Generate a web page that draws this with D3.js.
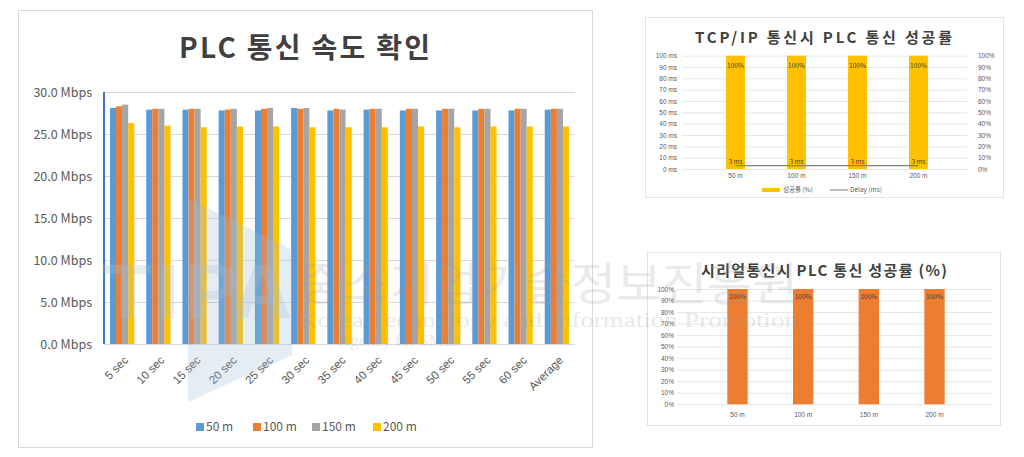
<!DOCTYPE html>
<html><head><meta charset="utf-8">
<script src="https://cdn.jsdelivr.net/npm/d3@7"></script>
<style>
html,body{margin:0;padding:0;background:#fff;}
svg{display:block;font-family:"Noto Sans CJK KR","Noto Sans",sans-serif;}
</style></head><body>
<svg id="c" width="1024" height="457"></svg>
<script>
// ---------- data ----------
const categories = ["5 sec","10 sec","15 sec","20 sec","25 sec","30 sec","35 sec","40 sec","45 sec","50 sec","55 sec","60 sec","Average"];
const seriesNames = ["50 m","100 m","150 m","200 m"];
const speed50  = [28.1,27.9,27.9,27.8,27.8,28.1,27.8,27.9,27.8,27.8,27.8,27.8,27.9];
const speed100 = [28.3,28.0,28.0,27.9,28.0,28.0,28.0,28.0,28.0,28.0,28.0,28.0,28.0];
const speed150 = [28.5,28.0,28.0,28.0,28.1,28.1,27.9,28.0,28.0,28.0,28.0,28.0,28.0];
const speed200 = [26.3,26.0,25.8,25.9,25.9,25.8,25.8,25.8,25.9,25.8,25.9,25.9,25.9];
const speedTicks = [0,5,10,15,20,25,30];

const distances = ["50 m","100 m","150 m","200 m"];
const tcpSuccess = [100,100,100,100];
const tcpDelay = [3,3,3,3];
const delayTicks = [0,10,20,30,40,50,60,70,80,90,100];
const pctTicks = [0,10,20,30,40,50,60,70,80,90,100];
const serialSuccess = [100,100,100,100];

const colors = ["#5B9BD5","#ED7D31","#A5A5A5","#FFC000"];
const svg = d3.select("#c");
const gridC = "#D9D9D9", txtC = "#595959";

// ---------- main chart ----------
svg.append("rect").attr("x",18.5).attr("y",10.5).attr("width",574).attr("height",437)
  .attr("fill","#fff").attr("stroke","#D9D9D9");
svg.append("text").attr("x",179).attr("y",58)
  .attr("font-size",28).attr("font-weight",700).attr("fill","#404040")
  .attr("textLength",251).attr("lengthAdjust","spacing").text("PLC 통신 속도 확인");

const x0 = d3.scaleBand().domain(categories).range([104,575]).paddingInner(0.33).paddingOuter(0.165);
const x1 = d3.scaleBand().domain(seriesNames).range([0,x0.bandwidth()]);
const y = d3.scaleLinear().domain([0,30]).range([344,92]);
const main = svg.append("g");
main.append("g").selectAll("line").data(speedTicks).join("line")
  .attr("x1",104).attr("x2",575).attr("y1",d=>y(d)+0.5).attr("y2",d=>y(d)+0.5).attr("stroke",gridC);
const yAx = d3.axisLeft(y).tickValues(speedTicks).tickSize(0).tickPadding(12).tickFormat(d=>d3.format(".1f")(d)+" Mbps");
main.append("g").attr("transform","translate(104,0)").call(yAx)
  .call(g=>g.select(".domain").remove())
  .call(g=>g.selectAll("text").attr("font-size",12.5).attr("fill",txtC).attr("font-family","Noto Sans CJK KR"));
const allSeries = [speed50,speed100,speed150,speed200];
const rows = categories.map((c,i)=>({cat:c, vals: allSeries.map((s,k)=>({name:seriesNames[k], v:s[i], k}))}));
main.append("g").selectAll("g").data(rows).join("g")
  .attr("transform",d=>`translate(${x0(d.cat)},0)`)
  .selectAll("rect").data(d=>d.vals).join("rect")
  .attr("x",d=>x1(d.name)).attr("width",x1.bandwidth())
  .attr("y",d=>y(d.v)).attr("height",d=>y(0)-y(d.v)).attr("fill",d=>colors[d.k]);
main.append("line").attr("x1",104).attr("x2",104).attr("y1",92).attr("y2",344)
  .attr("stroke","#4472C4").attr("stroke-width",2);
const xAx = d3.axisBottom(x0).tickSize(0).tickPadding(0);
main.append("g").attr("transform","translate(0,352)").call(xAx)
  .call(g=>g.select(".domain").remove())
  .call(g=>g.selectAll("text").attr("font-size",11.5).attr("fill",txtC)
     .attr("text-anchor","end").attr("dy","0.35em")
     .attr("transform","translate(4,6) rotate(-45)"));
// legend
const leg = main.append("g").attr("transform","translate(196,427)");
const legX = [0,57,116,177];
seriesNames.forEach((n,k)=>{
  const g = leg.append("g").attr("transform",`translate(${legX[k]},0)`);
  g.append("rect").attr("x",0).attr("y",-4).attr("width",8).attr("height",8).attr("fill",colors[k]);
  g.append("text").attr("x",10).attr("y",0).attr("dy","0.35em").attr("font-size",12).attr("fill",txtC).text(n);
});

// ---------- TCP/IP chart ----------
svg.append("rect").attr("x",645.5).attr("y",17.5).attr("width",358).attr("height",180)
  .attr("fill","#fff").attr("stroke","#E3E3E3");
svg.append("text").attr("x",695).attr("y",43)
  .attr("font-size",15).attr("font-weight",700).attr("fill","#404040")
  .attr("textLength",257).attr("lengthAdjust","spacing").text("TCP/IP 통신시 PLC 통신 성공률");
const tx = d3.scaleBand().domain(distances).range([684,970]).padding(0.69);
const tyL = d3.scaleLinear().domain([0,100]).range([169,55.7]);
const tyR = d3.scaleLinear().domain([0,100]).range([169,55.7]);
const tcp = svg.append("g");
tcp.append("g").selectAll("line").data(delayTicks).join("line")
  .attr("x1",682).attr("x2",967).attr("y1",d=>tyL(d)+0.5).attr("y2",d=>tyL(d)+0.5).attr("stroke","#E6E6E6");
tcp.append("g").attr("transform","translate(682,0)")
  .call(d3.axisLeft(tyL).tickValues(delayTicks).tickSize(0).tickPadding(5).tickFormat(d=>d+" ms"))
  .call(g=>g.select(".domain").remove())
  .call(g=>g.selectAll("text").attr("font-size",6.5).attr("fill",txtC));
tcp.append("g").attr("transform","translate(967,0)")
  .call(d3.axisRight(tyR).tickValues(pctTicks).tickSize(0).tickPadding(11).tickFormat(d=>d+"%"))
  .call(g=>g.select(".domain").remove())
  .call(g=>g.selectAll("text").attr("font-size",6.5).attr("fill",txtC));
tcp.append("g").selectAll("rect").data(tcpSuccess).join("rect")
  .attr("x",(d,i)=>tx(distances[i])).attr("width",tx.bandwidth())
  .attr("y",d=>tyR(d)).attr("height",d=>tyR(0)-tyR(d)).attr("fill","#FFC000");
tcp.append("g").selectAll("text").data(tcpSuccess).join("text")
  .attr("x",(d,i)=>tx(distances[i])+tx.bandwidth()/2).attr("y",d=>tyR(d)+12)
  .attr("text-anchor","middle").attr("font-size",6.5).attr("fill","#404040").text(d=>d+"%");
const line = d3.line().x((d,i)=>tx(distances[i])+tx.bandwidth()/2).y(d=>tyL(d));
tcp.append("path").datum(tcpDelay).attr("d",line).attr("fill","none").attr("stroke","#7F7F7F").attr("stroke-width",1.2);
tcp.append("g").selectAll("text").data(tcpDelay).join("text")
  .attr("x",(d,i)=>tx(distances[i])+tx.bandwidth()/2).attr("y",d=>tyL(d)-1.5)
  .attr("text-anchor","middle").attr("font-size",6.5).attr("fill","#404040").text(d=>d+" ms");
tcp.append("g").attr("transform","translate(0,173)")
  .call(d3.axisBottom(tx).tickSize(0).tickPadding(0))
  .call(g=>g.select(".domain").remove())
  .call(g=>g.selectAll("text").attr("font-size",6.5).attr("fill",txtC));
const tl = tcp.append("g").attr("transform","translate(0,190)");
tl.append("line").attr("x1",762).attr("x2",780).attr("y1",0).attr("y2",0).attr("stroke","#FFC000").attr("stroke-width",4);
tl.append("text").attr("x",783).attr("y",0).attr("dy","0.35em").attr("font-size",6.5).attr("fill",txtC).text("성공률 (%)");
tl.append("line").attr("x1",830).attr("x2",848).attr("y1",0).attr("y2",0).attr("stroke","#7F7F7F").attr("stroke-width",1);
tl.append("text").attr("x",850).attr("y",0).attr("dy","0.35em").attr("font-size",6.5).attr("fill",txtC).text("Delay (ms)");

// ---------- Serial chart ----------
svg.append("rect").attr("x",647.5).attr("y",252.5).attr("width",353).attr("height",173)
  .attr("fill","#fff").attr("stroke","#E3E3E3");
svg.append("text").attr("x",701).attr("y",276)
  .attr("font-size",15).attr("font-weight",700).attr("fill","#404040")
  .attr("textLength",246).attr("lengthAdjust","spacing").text("시리얼통신시 PLC 통신 성공률 (%)");
const sx = d3.scaleBand().domain(distances).range([682,990]).padding(0.69);
const sy = d3.scaleLinear().domain([0,100]).range([404.3,289]);
const ser = svg.append("g");
ser.append("g").selectAll("line").data(pctTicks).join("line")
  .attr("x1",677).attr("x2",992).attr("y1",d=>sy(d)+0.5).attr("y2",d=>sy(d)+0.5).attr("stroke","#E6E6E6");
ser.append("g").attr("transform","translate(677,0)")
  .call(d3.axisLeft(sy).tickValues(pctTicks).tickSize(0).tickPadding(3).tickFormat(d=>d+"%"))
  .call(g=>g.select(".domain").remove())
  .call(g=>g.selectAll("text").attr("font-size",6.5).attr("fill",txtC));
ser.append("g").selectAll("rect").data(serialSuccess).join("rect")
  .attr("x",(d,i)=>sx(distances[i])).attr("width",sx.bandwidth())
  .attr("y",d=>sy(d)).attr("height",d=>sy(0)-sy(d)).attr("fill","#ED7D31");
ser.append("g").selectAll("text").data(serialSuccess).join("text")
  .attr("x",(d,i)=>sx(distances[i])+sx.bandwidth()/2).attr("y",d=>sy(d)+10)
  .attr("text-anchor","middle").attr("font-size",6.5).attr("fill","#404040").text(d=>d+"%");
ser.append("g").attr("transform","translate(0,412)")
  .call(d3.axisBottom(sx).tickSize(0).tickPadding(0))
  .call(g=>g.select(".domain").remove())
  .call(g=>g.selectAll("text").attr("font-size",6.5).attr("fill",txtC));

// ---------- watermark ----------
const wm = svg.append("g").attr("pointer-events","none");
wm.append("polygon").attr("points","188,198 292,250 292,355 188,402")
  .attr("fill","#9fbcd9").attr("opacity",0.28);
wm.append("text").attr("x",100).attr("y",318).attr("font-size",72).attr("font-weight",700)
  .attr("textLength",190).attr("lengthAdjust","spacingAndGlyphs")
  .attr("fill","#a9bfd4").attr("opacity",0.28).text("TIPA");
wm.append("text").attr("x",298).attr("y",300).attr("font-size",46)
  .attr("textLength",500).attr("lengthAdjust","spacingAndGlyphs")
  .attr("fill","#9a9a9a").attr("opacity",0.2).text("중소기업기술정보진흥원");
wm.append("text").attr("x",298).attr("y",327).attr("font-size",20).attr("font-family","Liberation Serif")
  .attr("textLength",500).attr("lengthAdjust","spacingAndGlyphs")
  .attr("fill","#9a9a9a").attr("opacity",0.22).text("Korea Technology and Information Promotion");
wm.append("text").attr("x",338).attr("y",346).attr("font-size",17).attr("font-family","Liberation Serif")
  .attr("fill","#9a9a9a").attr("opacity",0.22).text("Agency for SMEs");
</script>
</body></html>
